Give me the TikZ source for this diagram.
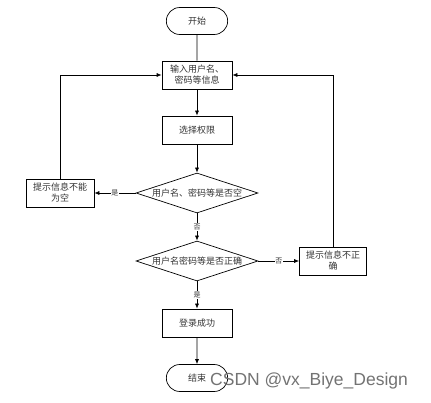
\documentclass[tikz,border=0pt]{standalone}
\usepackage{fontspec}
\newfontfamily\cjk{Noto Sans CJK SC}
\usetikzlibrary{shapes.geometric,shapes.misc,arrows.meta}
\begin{document}
\begin{tikzpicture}[x=1pt,y=-1pt,
  every node/.style={font=\cjk\fontsize{9}{11}\selectfont, text=black!80},
  term/.style={draw, rounded rectangle, minimum width=68pt, minimum height=27pt, line width=0.7pt},
  box/.style={draw, rectangle, minimum width=70pt, minimum height=28pt, align=center, line width=0.7pt, inner sep=1pt},
  dec/.style={draw, diamond, aspect=3, minimum width=122pt, minimum height=40pt, inner sep=0pt, line width=0.7pt},
  conn/.style={line width=0.7pt, -{Latex[length=5pt,width=4pt]}},
  lbl/.style={fill=white, inner sep=0.5pt, font=\cjk\fontsize{7}{8}\selectfont}]
\useasboundingbox (0,0) rectangle (431,403);
\node[term] (start) at (197,21) {开始};
\node[box] (input) at (197,75) {输入用户名、\\密码等信息};
\node[box] (sel) at (197,130) {选择权限};
\node[dec] (d1) at (197,193) {用户名、密码等是否空};
\node[box, minimum width=68pt] (empty) at (60,193) {提示信息不能\\为空};
\node[dec] (d2) at (197,261) {用户名密码等是否正确};
\node[box, minimum width=67pt] (wrong) at (333,261) {提示信息不正\\确};
\node[box] (ok) at (197,323) {登录成功};
\node[term] (end) at (197,378) {结束};
\node[font=\fontspec{Liberation Sans}\fontsize{17.5}{20}\selectfont, text=black!55, anchor=west, inner sep=0pt] (wm) at (210,381) {CSDN @vx\_Biye\_Design};
\draw[line width=0.7pt] (start) -- (input);
\draw[conn] (input) -- (sel);
\draw[conn] (sel) -- (d1);
\draw[conn] (d1) -- node[lbl]{是} (empty);
\draw[conn] (empty) |- (input);
\draw[conn] (d1) -- node[lbl]{否} (d2);
\draw[conn] (d2) -- node[lbl]{否} (wrong);
\draw[conn] (wrong) |- (input);
\draw[conn] (d2) -- node[lbl]{是} (ok);
\draw[conn] (ok) -- (end);
\end{tikzpicture}
\end{document}
